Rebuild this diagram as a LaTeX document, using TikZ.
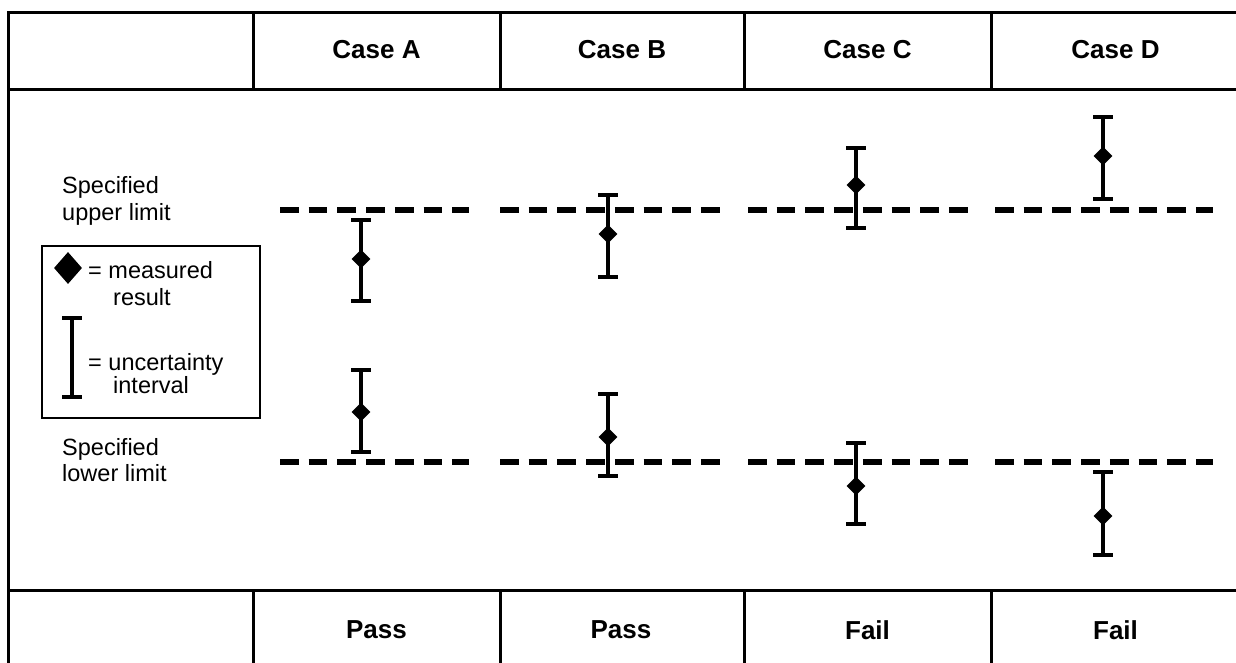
\documentclass[tikz,border=0pt]{standalone}
\usepackage{fontspec}
\setmainfont{Liberation Sans}
\usetikzlibrary{shapes.geometric}
\tikzset{
  tbl/.style={line width=3pt, line cap=rect},
  hdr/.style={font=\bfseries\fontsize{26}{30}\selectfont, inner sep=0pt},
  lbl/.style={font=\fontsize{23.5}{27}\selectfont, inner sep=0pt, anchor=base west},
  barline/.style={line width=3.5pt},
  capline/.style={line width=4pt},
  dmd/.style={diamond, fill=black, draw=none, inner sep=0pt, minimum width=19pt, minimum height=19pt},
  limit/.style={line width=6pt, dash pattern=on 18.7pt off 10pt},
  legbox/.style={line width=1.5pt},
}
\newcommand\ebar[5]{%
  \coordinate (#1-t) at (#2,#3);
  \coordinate (#1-b) at (#2,#5);
  \draw[barline] (#1-t) -- (#1-b);
  \draw[capline] ([xshift=-10pt]#1-t) -- ([xshift=10pt]#1-t);
  \draw[capline] ([xshift=-10pt]#1-b) -- ([xshift=10pt]#1-b);
  \node[dmd] (#1-d) at (#2,#4) {};
}
\begin{document}
\begin{tikzpicture}[x=1pt,y=-1pt]
\useasboundingbox (0,0) rectangle (1236,662);
\fill[white] (0,0) rectangle (1236,662);

% table grid
\draw[tbl] (8,12) -- (1245,12);
\draw[tbl] (8,89) -- (1245,89);
\draw[tbl] (8,590) -- (1245,590);
\draw[tbl] (8,12) -- (8,670);
\foreach \xx in {253,500,744,991} {
  \draw[tbl] (\xx,12) -- (\xx,89);
  \draw[tbl] (\xx,590) -- (\xx,670);
}

% header and result texts
\node[hdr] (hA) at (376.5,50) {Case A};
\node[hdr] (hB) at (622,50) {Case B};
\node[hdr] (hC) at (867.5,50) {Case C};
\node[hdr] (hD) at (1115.5,50) {Case D};
\node[hdr] (rA) at (376.5,630) {Pass};
\node[hdr] (rB) at (621,630) {Pass};
\node[hdr] (rC) at (867.5,630) {Fail};
\node[hdr] (rD) at (1115.5,630) {Fail};

% limit labels
\node[lbl] (su1) at (62,193) {Specified};
\node[lbl] (su2) at (62,220) {upper limit};
\node[lbl] (sl1) at (62,455) {Specified};
\node[lbl] (sl2) at (62,481) {lower limit};

% legend
\draw[legbox] (42,246) rectangle (260,418);
\node[diamond, fill=black, inner sep=0pt, minimum width=28pt, minimum height=32pt] (legd) at (68,268) {};
\node[lbl] (lg1) at (88,278) {= measured};
\node[lbl] (lg2) at (113,305) {result};
\coordinate (legt) at (72,318);
\coordinate (legb) at (72,397);
\draw[line width=4pt] (legt) -- (legb);
\draw[line width=4pt] ([xshift=-10pt]legt) -- ([xshift=10pt]legt);
\draw[line width=4pt] ([xshift=-10pt]legb) -- ([xshift=10pt]legb);
\node[lbl] (lg3) at (88,370) {= uncertainty};
\node[lbl] (lg4) at (113,393) {interval};

% limit lines
\foreach \a/\b [count=\i] in {280/469,500/720,748/968,995/1213} {
  \coordinate (u\i s) at (\a,210);
  \coordinate (u\i e) at (\b,210);
  \coordinate (l\i s) at (\a,461.5);
  \coordinate (l\i e) at (\b,461.5);
  \draw[limit] (u\i s) -- (u\i e);
  \draw[limit] (l\i s) -- (l\i e);
}

% error bars
\ebar{uA}{361}{220}{259}{301}
\ebar{uB}{608}{195}{234}{277}
\ebar{uC}{856}{148}{185}{228}
\ebar{uD}{1103}{117}{156}{199}
\ebar{lA}{361}{370}{412}{452}
\ebar{lB}{608}{394}{437}{476}
\ebar{lC}{856}{443}{486}{524}
\ebar{lD}{1103}{472}{516}{555}
\end{tikzpicture}
\end{document}
